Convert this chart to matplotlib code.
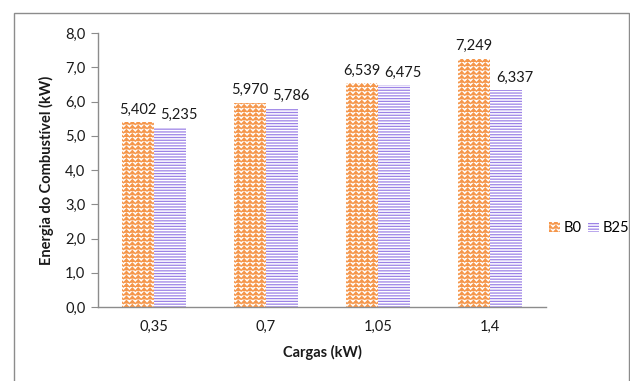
import warnings
import numpy as np
import matplotlib
matplotlib.use("Agg")
import matplotlib.pyplot as plt
import matplotlib.hatch as mhatch
from matplotlib.path import Path
from matplotlib.patches import Rectangle

warnings.filterwarnings("ignore")

cargas = ["0,35", "0,7", "1,05", "1,4"]
b0 = [5.402, 5.970, 6.539, 7.249]
b25 = [5.235, 5.786, 6.475, 6.337]
series_names = ["B0", "B25"]


class ZigZagHatch(mhatch.HatchPatternBase):
    # rows of small zigzags, triggered by 'z' in the hatch string
    def __init__(self, hatch, density):
        self.rows = int(hatch.count('z') * density)
        self.periods = 17
        self.per_row = 2 * self.periods + 1
        self.num_vertices = self.rows * self.per_row

    def set_vertices_and_codes(self, vertices, codes):
        xs = np.linspace(0, 1, self.per_row)
        amp = 0.016
        k = 0
        for r in range(self.rows):
            y0 = (r + 0.5) / self.rows
            ys = y0 + np.where(np.arange(self.per_row) % 2 == 0, -amp, amp)
            vertices[k:k + self.per_row, 0] = xs
            vertices[k:k + self.per_row, 1] = ys
            codes[k] = Path.MOVETO
            codes[k + 1:k + self.per_row] = Path.LINETO
            k += self.per_row


mhatch._hatch_types.append(ZigZagHatch)

plt.rcParams['font.family'] = ['Lato', 'DejaVu Sans']
plt.rcParams['hatch.linewidth'] = 0.9

orange = '#f5964a'
purple = '#9c82e6'
grey = '#8c8c8c'
txt = '#1a1a1a'

fig = plt.figure(figsize=(6.3, 3.81), dpi=100)
ax = fig.add_axes([98 / 630, 1 - 307 / 381, 448 / 630, 274 / 381])

x = np.arange(len(cargas))
w = 0.29
bars0 = ax.bar(x - w / 2, b0, w, facecolor='white', edgecolor=orange,
               linewidth=0, hatch='zzzz', label=series_names[0])
bars1 = ax.bar(x + w / 2, b25, w, facecolor='white', edgecolor=purple,
               linewidth=0, hatch='------', label=series_names[1])

for bars, vals, dx in ((bars0, b0, 0), (bars1, b25, 6)):
    for b, v in zip(bars, vals):
        ax.annotate(f"{v:.3f}".replace('.', ','),
                    (b.get_x() + b.get_width() / 2, v),
                    xytext=(dx, 4), textcoords='offset points',
                    ha='center', va='bottom', fontsize=10.5, color=txt)

ax.set_xlim(-0.5, len(cargas) - 0.5)
ax.set_ylim(0, 8)
ax.set_yticks(np.arange(0, 9, 1))
ax.set_yticklabels([f"{t:.1f}".replace('.', ',') for t in range(9)])
ax.set_xticks(x)
ax.set_xticklabels(cargas)
ax.tick_params(axis='y', length=5, color=grey, labelsize=10.5,
               labelcolor=txt, pad=4)
ax.tick_params(axis='x', length=0, labelsize=10.5, labelcolor=txt, pad=9)

for side in ('top', 'right'):
    ax.spines[side].set_visible(False)
for side in ('left', 'bottom'):
    ax.spines[side].set_color(grey)
    ax.spines[side].set_linewidth(1.0)

ax.set_xlabel("Cargas (kW)", fontsize=10.5, fontweight='bold',
              color=txt, labelpad=8)
ax.set_ylabel("Energia do Combustível (kW)", fontsize=10.5,
              fontweight='bold', color=txt, labelpad=8)

fig.legend(handles=[bars0, bars1], labels=series_names,
           loc='center left', bbox_to_anchor=(549 / 630, 1 - 228 / 381),
           frameon=False, fontsize=10.5, ncol=2, handlelength=0.75,
           handleheight=0.75, handletextpad=0.25, columnspacing=0.45,
           borderpad=0, borderaxespad=0)

fig.patches.append(Rectangle((13.5 / 630, -0.05), 615 / 630,
                             1 - 12.5 / 381 + 0.05,
                             transform=fig.transFigure, fill=False,
                             edgecolor=grey, linewidth=1.0))

fig.savefig("out.png", dpi=100)
